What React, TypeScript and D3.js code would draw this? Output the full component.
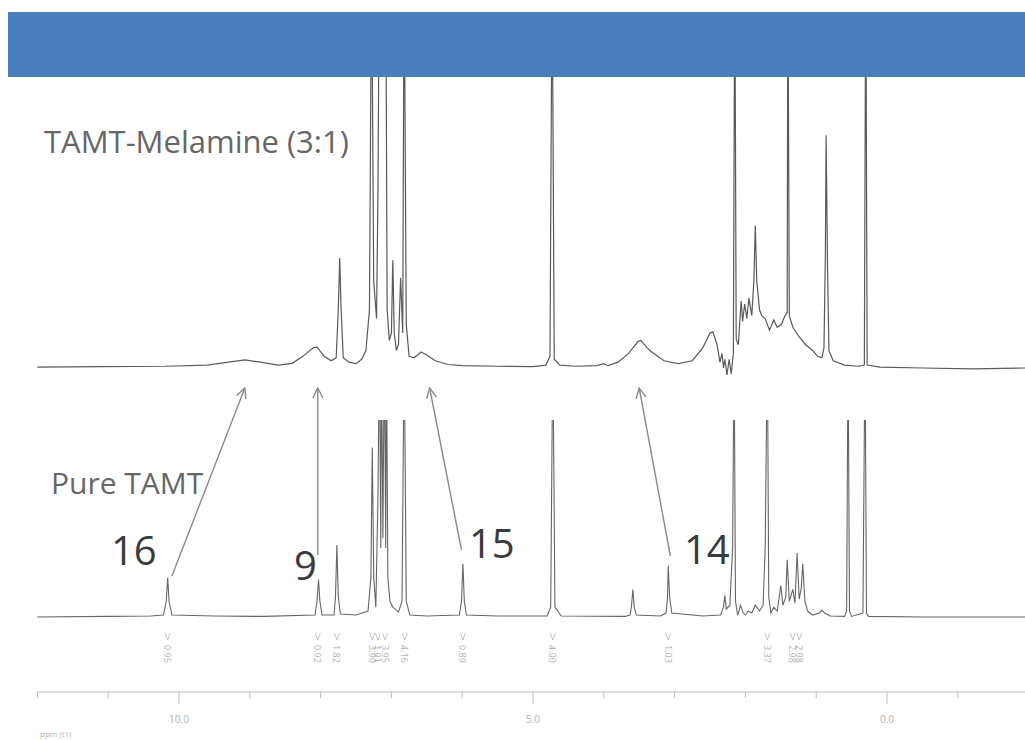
import React from "react";
import * as d3 from "d3";

// ---------- data ----------
// TAMT-Melamine (3:1) spectrum: [ppm, relative intensity]
const topSpectrum: [number, number][] = [
  [12.0, 0.3], [11.1, 0.5], [10.2, 0.6], [9.6, 1.0], [9.3, 2.0], [9.07, 2.8], [8.85, 2.0], [8.6, 1.0], [8.4, 1.6],
  [8.25, 4.0], [8.1, 7.0], [8.05, 7.2], [7.95, 4.0], [7.85, 2.5], [7.78, 3.5], [7.75, 20], [7.73, 37.8], [7.71, 20],
  [7.68, 3.5], [7.6, 2.0], [7.5, 1.5], [7.42, 3], [7.36, 6], [7.31, 20], [7.28, 140], [7.25, 30], [7.21, 17],
  [7.19, 60], [7.17, 140], [7.14, 140], [7.11, 140], [7.08, 140], [7.06, 20], [7.03, 9.5], [7.0, 12], [6.98, 37],
  [6.96, 12], [6.93, 6], [6.9, 8], [6.87, 31], [6.84, 12], [6.82, 140], [6.79, 15], [6.75, 4], [6.68, 3.5],
  [6.58, 5.5], [6.5, 4.5], [6.38, 2.5], [6.2, 1.2], [6.0, 0.8], [5.5, 0.6], [5.0, 0.5], [4.82, 1.0], [4.76, 4],
  [4.73, 140], [4.7, 3], [4.62, 1.0], [4.4, 0.6], [4.1, 0.8], [4.0, 1.5], [3.94, 0.8], [3.8, 2], [3.65, 5],
  [3.52, 9], [3.48, 9.5], [3.35, 6], [3.15, 2.5], [2.95, 1.5], [2.75, 2.5], [2.6, 7], [2.5, 12], [2.46, 12.4],
  [2.4, 8], [2.36, 2], [2.33, 5], [2.31, 0], [2.29, 3], [2.26, -2.4], [2.23, 3], [2.2, -2], [2.17, 5],
  [2.15, 140], [2.13, 10], [2.1, 8], [2.06, 23], [2.04, 16], [2.01, 22], [1.98, 17], [1.95, 24], [1.91, 18],
  [1.88, 30], [1.86, 49], [1.84, 30], [1.8, 20], [1.77, 18], [1.72, 17], [1.66, 13], [1.6, 16.5], [1.55, 14],
  [1.49, 15], [1.44, 18], [1.41, 19], [1.4, 140], [1.38, 18], [1.33, 14], [1.25, 11], [1.15, 8], [1.05, 6],
  [0.98, 4], [0.92, 3.5], [0.89, 7], [0.87, 40], [0.86, 80], [0.84, 35], [0.82, 6], [0.76, 2.5], [0.6, 1.0],
  [0.4, 0.6], [0.32, 1], [0.3, 140], [0.28, 1], [0.1, 0.3], [-0.5, 0], [-1.2, -0.3], [-1.95, 0],
];

// Pure TAMT spectrum: [ppm, relative intensity]
const bottomSpectrum: [number, number][] = [
  [12.0, 0], [11.0, 0.3], [10.4, 0.5], [10.22, 1], [10.18, 8], [10.16, 20], [10.14, 8], [10.1, 1], [9.5, 0.5],
  [8.8, 0.3], [8.08, 1], [8.05, 8], [8.03, 19], [8.01, 8], [7.98, 1], [7.81, 1], [7.79, 10], [7.77, 36.5],
  [7.75, 10], [7.72, 1.5], [7.5, 1], [7.33, 3], [7.29, 20], [7.27, 86], [7.25, 20], [7.22, 5], [7.19, 60],
  [7.17, 140], [7.15, 35], [7.14, 140], [7.12, 40], [7.1, 140], [7.08, 35], [7.07, 140], [7.05, 20], [7.02, 8],
  [6.98, 5], [6.9, 2.5], [6.85, 8], [6.82, 140], [6.79, 8], [6.74, 1], [6.5, 0.5], [6.04, 1], [6.01, 8],
  [5.99, 27], [5.97, 8], [5.94, 1], [5.5, 0.5], [4.8, 0.5], [4.75, 5], [4.72, 140], [4.69, 5], [4.6, 0.5],
  [3.7, 0.3], [3.63, 1], [3.61, 5], [3.59, 14], [3.57, 5], [3.54, 1], [3.2, 0.5], [3.12, 2], [3.1, 10],
  [3.09, 26], [3.07, 10], [3.04, 2], [2.6, 0.5], [2.35, 1], [2.31, 5], [2.29, 11], [2.27, 4], [2.22, 6],
  [2.18, 35.5], [2.16, 140], [2.14, 8], [2.11, 1], [2.09, 3], [2.07, 6], [2.03, 2], [2.0, 1], [1.96, 3],
  [1.91, 2], [1.86, 6], [1.8, 3], [1.75, 6], [1.72, 36], [1.69, 140], [1.67, 10], [1.64, 2], [1.6, 5],
  [1.55, 3], [1.5, 16], [1.47, 6], [1.43, 10], [1.41, 29], [1.38, 8], [1.33, 14], [1.3, 7], [1.27, 32.5],
  [1.24, 9], [1.21, 15], [1.19, 27], [1.16, 8], [1.12, 3], [1.05, 1], [0.95, 2], [0.92, 3.5], [0.88, 2],
  [0.8, 0.5], [0.6, 0.3], [0.57, 3], [0.55, 140], [0.53, 3], [0.5, 0.3], [0.34, 2], [0.31, 140], [0.29, 2],
  [0.26, 0.3], [-0.5, 0], [-1.95, 0],
];

const integPpm = [10.16, 8.04, 7.77, 7.27, 7.19, 7.09, 6.81, 5.99, 4.72, 3.09, 1.69, 1.33, 1.24];
const integText = ["0.95", "0.92", "1.82", "3.90", "1.91", "3.95", "4.16", "0.89", "4.00", "1.03", "3.37", "2.98", "2.98"];

const axisTicks = [12, 11, 10, 9, 8, 7, 6, 5, 4, 3, 2, 1, 0, -1];
const axisLabels = [10, 5, 0];

const arrowLabels = ["16", "9", "15", "14"];
const arrowFromPpm = [10.1, 8.04, 6.01, 3.06];
const arrowToPpm = [9.07, 8.04, 6.46, 3.5];

export default function App() {
  const W = 1025;
  const H = 740;
  const x = d3.scaleLinear().domain([12, -2]).range([37.4, 1028.6]);
  const yTop = d3.scaleLinear().domain([0, 100]).range([368, 77]);
  const yBot = d3.scaleLinear().domain([0, 100]).range([617, 420]);

  const lineTop = d3.line<[number, number]>().x((d) => x(d[0])).y((d) => yTop(d[1]));
  const lineBot = d3.line<[number, number]>().x((d) => x(d[0])).y((d) => yBot(d[1]));

  const axisY = 692;
  const labelPos = [
    { x: 111, y: 565, size: 40 },
    { x: 294, y: 580, size: 40 },
    { x: 469, y: 558, size: 40 },
    { x: 684, y: 564, size: 40 },
  ];
  const arrowStartY = [576, 555, 550, 556];
  const arrowEndY = 388;

  return (
    <svg
      width={W}
      height={H}
      style={{ position: "absolute", left: 0, top: 0, background: "#fff" }}
      fontFamily="'Open Sans', 'Noto Sans', sans-serif"
    >
      <defs>
        <clipPath id="clipBot">
          <rect x={0} y={420} width={W} height={300} />
        </clipPath>
        <clipPath id="clipTop">
          <rect x={0} y={77} width={W} height={330} />
        </clipPath>
        <marker id="arrowHead" viewBox="0 0 12 12" refX="11" refY="6" markerWidth="12" markerHeight="12" markerUnits="userSpaceOnUse" orient="auto">
          <path d="M1,1 L11,6 L1,11" fill="none" stroke="#8a8a8a" strokeWidth={1.4} />
        </marker>
      </defs>
      <rect x={0} y={0} width={W} height={H} fill="#fff" />

      {/* spectra */}
      <path d={lineTop(topSpectrum) || ""} fill="none" stroke="#5a5a5a" strokeWidth={1.2} clipPath="url(#clipTop)" />
      <path d={lineBot(bottomSpectrum) || ""} fill="none" stroke="#666" strokeWidth={1.1} clipPath="url(#clipBot)" />

      {/* integration labels */}
      {integPpm.map((p, i) => (
        <g key={i} transform={`translate(${x(p)},0)`}>
          <path d="M-2.5,633 L0,640 L2.5,633" fill="none" stroke="#b5b5b5" strokeWidth={0.8} />
          <text transform="translate(-3.5,645) rotate(90)" fontSize={9} fill="#b0b0b0">
            {integText[i]}
          </text>
        </g>
      ))}

      {/* axis */}
      <line x1={37} x2={W} y1={axisY} y2={axisY} stroke="#bdbdbd" strokeWidth={1} />
      {axisTicks.map((t) => (
        <line
          key={t}
          x1={x(t)}
          x2={x(t)}
          y1={axisY}
          y2={axisY + (axisLabels.includes(t) ? 12 : 6)}
          stroke="#bdbdbd"
          strokeWidth={1}
        />
      ))}
      {axisLabels.map((t) => (
        <text key={t} x={x(t)} y={723} textAnchor="middle" fontSize={10} fill="#b0b0b0">
          {t.toFixed(1)}
        </text>
      ))}
      <text x={40} y={737} fontSize={8} fill="#b0b0b0">ppm (t1)</text>

      {/* arrows */}
      {arrowFromPpm.map((p, i) => (
        <line
          key={i}
          x1={x(p)}
          y1={arrowStartY[i]}
          x2={x(arrowToPpm[i])}
          y2={arrowEndY}
          stroke="#8a8a8a"
          strokeWidth={1.4}
          markerEnd="url(#arrowHead)"
        />
      ))}
      {arrowLabels.map((l, i) => (
        <text key={l} x={labelPos[i].x} y={labelPos[i].y} fontSize={labelPos[i].size} fill="#3a3a3a">
          {l}
        </text>
      ))}

      {/* titles */}
      <text x={44} y={153} fontSize={31} fill="#666">TAMT-Melamine (3:1)</text>
      <text x={51} y={494} fontSize={30} fill="#666">Pure TAMT</text>

      {/* banner */}
      <rect x={8} y={12} width={W - 8} height={65} fill="#4a7ebb" />
    </svg>
  );
}
